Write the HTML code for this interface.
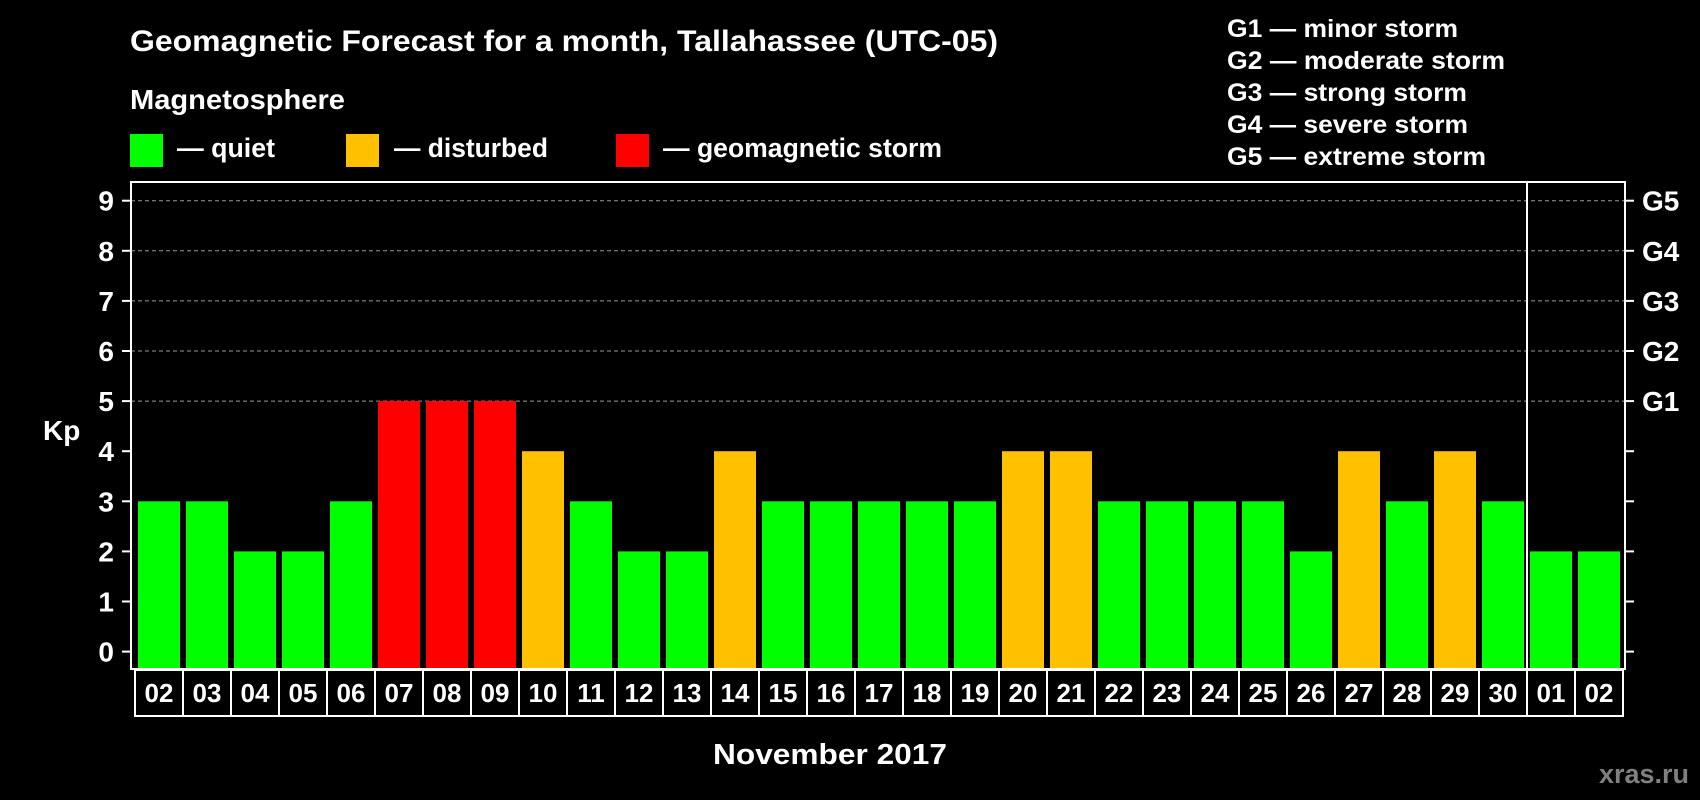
<!DOCTYPE html>
<html><head><meta charset="utf-8"><style>
html,body{margin:0;padding:0;background:#000;}
svg{display:block;font-family:"Liberation Sans",Arial,sans-serif;font-weight:bold;}
</style></head><body>
<svg id="chart" width="1700" height="800" viewBox="0 0 1700 800" xmlns="http://www.w3.org/2000/svg">
<rect width="1700" height="800" fill="#000"/>
<text x="130" y="51" font-size="30" fill="#fff" textLength="868" lengthAdjust="spacingAndGlyphs">Geomagnetic Forecast for a month, Tallahassee (UTC-05)</text>
<text x="130" y="109" font-size="28" fill="#fff" textLength="215" lengthAdjust="spacingAndGlyphs">Magnetosphere</text>
<g>
<rect x="130" y="134" width="33" height="33" fill="#00ff00"/>
<text x="177" y="157" font-size="27" fill="#fff" textLength="98" lengthAdjust="spacingAndGlyphs">— quiet</text></g>
<g>
<rect x="346" y="134" width="33" height="33" fill="#ffc000"/>
<text x="394" y="157" font-size="27" fill="#fff" textLength="154" lengthAdjust="spacingAndGlyphs">— disturbed</text></g>
<g>
<rect x="616" y="134" width="33" height="33" fill="#ff0000"/>
<text x="663" y="157" font-size="27" fill="#fff" textLength="279" lengthAdjust="spacingAndGlyphs">— geomagnetic storm</text></g>
<g font-size="25" fill="#fff">
<text x="1227" y="37" textLength="231" lengthAdjust="spacingAndGlyphs">G1 — minor storm</text>
<text x="1227" y="69" textLength="278" lengthAdjust="spacingAndGlyphs">G2 — moderate storm</text>
<text x="1227" y="101" textLength="240" lengthAdjust="spacingAndGlyphs">G3 — strong storm</text>
<text x="1227" y="133" textLength="241" lengthAdjust="spacingAndGlyphs">G4 — severe storm</text>
<text x="1227" y="165" textLength="259" lengthAdjust="spacingAndGlyphs">G5 — extreme storm</text>
</g>
<text x="43" y="440" font-size="28" fill="#fff">Kp</text>
<text x="830" y="764" font-size="29" fill="#fff" text-anchor="middle" textLength="234" lengthAdjust="spacingAndGlyphs">November 2017</text>
<text x="1689" y="783" font-size="27" fill="#808080" text-anchor="end">xras.ru</text>
<g id="grid"></g>
<g id="bars"></g>
<g id="axes"></g>
</svg>
<script>
const days = ["02","03","04","05","06","07","08","09","10","11","12","13","14","15","16","17","18","19","20","21","22","23","24","25","26","27","28","29","30","01","02"];
const kpValues = [3,3,2,2,3,5,5,5,4,3,2,2,4,3,3,3,3,3,4,4,3,3,3,3,2,4,3,4,3,2,2];
const yTicks = [0,1,2,3,4,5,6,7,8,9];
const gLabels = ["G1","G2","G3","G4","G5"];
const gLevels = [5,6,7,8,9];
const monthBreakIndex = 29;

const NS = "http://www.w3.org/2000/svg";
const plotL = 131, plotR = 1625, plotT = 182, plotB = 669;
const x0 = 138, step = 48, barW = 42;
function yScale(v){ return 651.6 - v * 50.1; }
function xScale(i){ return x0 + i * step; }
function colorFor(v){ return v >= 5 ? "#ff0000" : (v >= 4 ? "#ffc000" : "#00ff00"); }
function mk(tag, attrs, parent){ const e = document.createElementNS(NS, tag); for (const k in attrs) e.setAttribute(k, attrs[k]); parent.appendChild(e); return e; }

const grid = document.getElementById("grid");
gLevels.forEach((lv) => {
  const l = mk("line", {x1: plotL, x2: plotR, y1: yScale(lv), y2: yScale(lv), stroke: "#999", "stroke-width": 1, "stroke-dasharray": "4,3"}, grid);
  
  
});

const bars = document.getElementById("bars");
kpValues.forEach((v, i) => {
  const r = mk("rect", {x: xScale(i), y: yScale(v), width: barW, height: plotB - yScale(v), fill: colorFor(v)}, bars);
  
  
});

const axes = document.getElementById("axes");
const frame = mk("rect", {x: plotL, y: plotT, width: plotR - plotL, height: plotB - plotT, fill: "none", stroke: "#fff", "stroke-width": 2}, axes);


const divX = xScale(monthBreakIndex) - (step - barW) / 2;
const div = mk("line", {x1: divX, x2: divX, y1: plotT, y2: plotB, stroke: "#fff", "stroke-width": 2}, axes);



yTicks.forEach((t) => {
  const y = yScale(t);
  const tl = mk("line", {x1: 122, x2: plotL, y1: y, y2: y, stroke: "#fff", "stroke-width": 2}, axes);
  
  
  const tr = mk("line", {x1: plotR, x2: 1634, y1: y, y2: y, stroke: "#fff", "stroke-width": 2}, axes);
  
  
  const tx = mk("text", {x: 114, y: y + 10, "font-size": 28, fill: "#fff", "text-anchor": "end"}, axes);
  tx.textContent = t;
  
  
});
gLevels.forEach((lv, k) => {
  const tx = mk("text", {x: 1642, y: yScale(lv) + 10, "font-size": 28, fill: "#fff"}, axes);
  tx.textContent = gLabels[k];
  
  
});

days.forEach((d, i) => {
  const bx = xScale(i) - (step - barW) / 2;
  const box = mk("rect", {x: bx, y: 670, width: step, height: 46, fill: "#000", stroke: "#fff", "stroke-width": 2}, axes);
  
  
  const tx = mk("text", {x: bx + step / 2, y: 702, "font-size": 26, fill: "#fff", "text-anchor": "middle"}, axes);
  tx.textContent = d;
  
  
});
</script>
</body></html>
